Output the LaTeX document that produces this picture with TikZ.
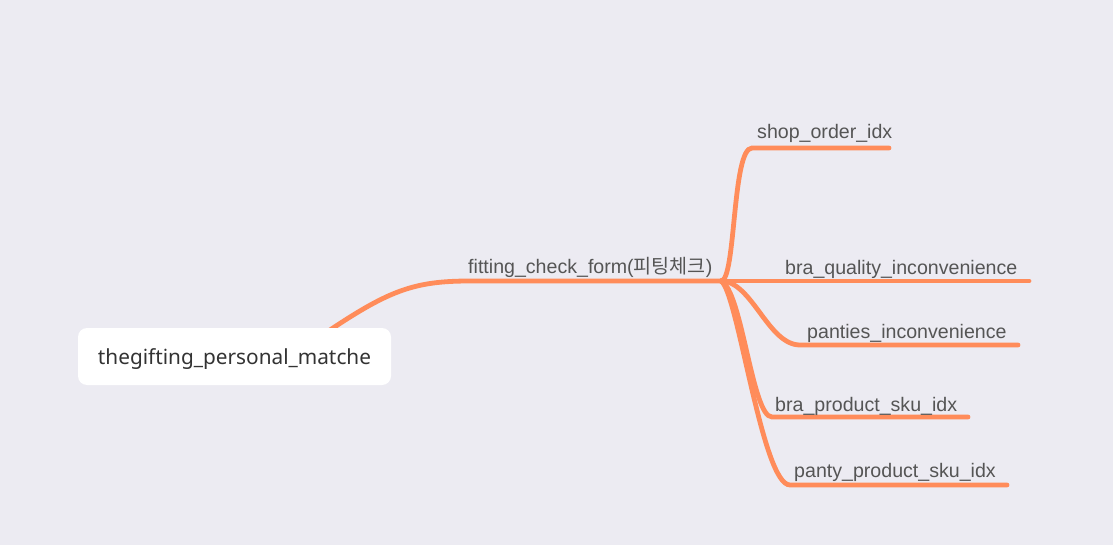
\documentclass[tikz,border=0pt]{standalone}
\usepackage{fontspec}
\setmainfont{Liberation Sans}
\newfontfamily\rootfont{Noto Sans}
\newfontfamily\krfont{Noto Sans CJK KR}
\definecolor{bgc}{HTML}{ECEBF2}
\definecolor{branch}{HTML}{FF8C5A}
\definecolor{lbl}{HTML}{555555}
\definecolor{roottxt}{HTML}{333333}
\begin{document}
\begin{tikzpicture}[x=1pt,y=-1pt,
  conn/.style={draw=branch,line width=4.8pt,line cap=round},
  leaf/.style={text=lbl,font=\fontsize{19.6}{22}\selectfont,inner sep=0pt,anchor=base west},
  rootbox/.style={fill=white,rounded corners=9pt,minimum width=313pt,minimum height=57pt,text height=15pt,text depth=4pt,text=roottxt,font=\rootfont\fontsize{20.8}{24}\selectfont}]
\fill[bgc] (0,0) rectangle (1113,545);
\useasboundingbox (0,0) rectangle (1113,545);
% coordinates
\coordinate (hub) at (721,281);
\coordinate (rs) at (330,330);
\coordinate (e1) at (889,148);
\coordinate (e2) at (1029,281);
\coordinate (e3) at (1018,345);
\coordinate (e4) at (968,417);
\coordinate (e5) at (1007,485);
% connectors
\draw[conn] (rs) .. controls (390,290) and (415,281) .. (470,281) -- (hub);
\draw[conn] (hub) .. controls (736,281) and (732,148) .. (752,148) -- (e1);
\draw[conn] (hub) -- (e2);
\draw[conn] (hub) .. controls (752,281) and (768,345) .. (800,345) -- (e3);
\draw[conn] (hub) .. controls (742,290) and (752,417) .. (772,417) -- (e4);
\draw[conn] (hub) .. controls (738,292) and (762,485) .. (790,485) -- (e5);
% nodes
\node[rootbox] (root) at (234.5,356.5) {\raisebox{-2pt}{thegifting\_personal\_matche}};
\node[leaf] (fit) at (468,273) {fitting\_check\_form({\krfont 피팅체크})};
\node[leaf] (n1) at (757,139) {shop\_order\_idx};
\node[leaf] (n2) at (785,274) {bra\_quality\_inconvenience};
\node[leaf] (n3) at (807,338) {panties\_inconvenience};
\node[leaf] (n4) at (775,411) {bra\_product\_sku\_idx};
\node[leaf] (n5) at (794,477) {panty\_product\_sku\_idx};
\end{tikzpicture}
\end{document}
